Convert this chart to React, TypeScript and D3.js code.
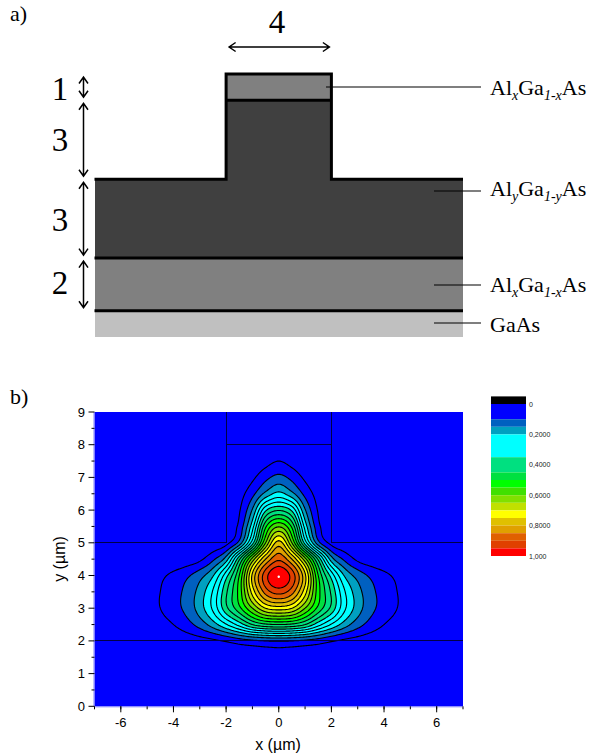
import React from "react";
import * as d3 from "d3";

// ---- data ----
const gridXs = [0, 0.5, 1, 1.5, 2, 2.5, 3, 3.5, 4, 4.5, 5, 5.5, 6, 6.5];
const gridYs = [0.5, 1, 1.5, 2, 2.5, 3, 3.5, 4, 4.5, 5, 5.5, 6, 6.5, 7, 7.5, 8, 8.5];
const fieldRows = [
  [0, 0, 0, 0, 0, 0, 0, 0, 0, 0, 0, 0, 0, 0],
  [0.005, 0.004, 0.003, 0.002, 0.002, 0.001, 0.001, 0, 0, 0, 0, 0, 0, 0],
  [0.025, 0.023, 0.02, 0.015, 0.011, 0.008, 0.005, 0.003, 0.002, 0, 0, 0, 0, 0],
  [0.105, 0.1, 0.09, 0.075, 0.055, 0.04, 0.03, 0.02, 0.012, 0.006, 0.002, 0, 0, 0],
  [0.45, 0.44, 0.4, 0.32, 0.245, 0.175, 0.12, 0.08, 0.05, 0.03, 0.015, 0.007, 0.003, 0.001],
  [0.725, 0.7, 0.6, 0.485, 0.385, 0.26, 0.175, 0.115, 0.08, 0.05, 0.03, 0.015, 0.007, 0.002],
  [0.92, 0.87, 0.72, 0.52, 0.39, 0.255, 0.17, 0.115, 0.078, 0.05, 0.03, 0.015, 0.007, 0.002],
  [1.0, 0.93, 0.76, 0.5, 0.33, 0.195, 0.13, 0.09, 0.062, 0.04, 0.022, 0.01, 0.004, 0.001],
  [0.89, 0.8, 0.62, 0.39, 0.175, 0.09, 0.04, 0.02, 0.01, 0.005, 0.002, 0, 0, 0],
  [0.77, 0.6, 0.33, 0.12, 0.035, 0.012, 0.005, 0, 0, 0, 0, 0, 0, 0],
  [0.595, 0.49, 0.23, 0.065, 0.015, 0.005, 0, 0, 0, 0, 0, 0, 0, 0],
  [0.395, 0.34, 0.155, 0.045, 0.008, 0, 0, 0, 0, 0, 0, 0, 0, 0],
  [0.215, 0.165, 0.085, 0.03, 0.005, 0, 0, 0, 0, 0, 0, 0, 0, 0],
  [0.115, 0.085, 0.04, 0.01, 0, 0, 0, 0, 0, 0, 0, 0, 0, 0],
  [0.05, 0.032, 0.01, 0.002, 0, 0, 0, 0, 0, 0, 0, 0, 0, 0],
  [0.015, 0.01, 0.003, 0, 0, 0, 0, 0, 0, 0, 0, 0, 0, 0],
  [0, 0, 0, 0, 0, 0, 0, 0, 0, 0, 0, 0, 0, 0],
];
const contourLevels = [0.05, 0.1, 0.15, 0.2, 0.25, 0.3, 0.35, 0.4, 0.45, 0.5, 0.55, 0.6, 0.65, 0.7, 0.75, 0.8, 0.85, 0.9, 0.95];
const bandStarts = [-0.05, 0, 0.1, 0.15, 0.2, 0.35, 0.45, 0.5, 0.55, 0.6, 0.65, 0.7, 0.75, 0.8, 0.85, 0.9, 0.95];
const bandEnds = [0, 0.1, 0.15, 0.2, 0.35, 0.45, 0.5, 0.55, 0.6, 0.65, 0.7, 0.75, 0.8, 0.85, 0.9, 0.95, 1];
const bandColors = ["#000000", "#0000ff", "#0060c0", "#00a0c0", "#00ffff", "#00e080", "#00e040", "#00ff00", "#40e000", "#80e000", "#c0e000", "#ffff00", "#e0c000", "#e0a000", "#e06000", "#e04000", "#ff0000"];
const legendTicks = [0, 0.2, 0.4, 0.6, 0.8, 1];
const legendTickLabels = ["0", "0,2000", "0,4000", "0,6000", "0,8000", "1,000"];
const peak = { x: 0, y: 3.96 };

const layerThickness = [1, 2, 3, 3, 1];
const layerFills = ["#c0c0c0", "#808080", "#404040", "#404040", "#808080"];
const dimArrows = [
  { label: "1", from: 9, to: 10, base: 100 },
  { label: "3", from: 6, to: 9, base: 151 },
  { label: "3", from: 3, to: 6, base: 231 },
  { label: "2", from: 1, to: 3, base: 294 },
];
const materials = [
  { a: "x", b: "1-x", line: 87, start: 326, base: 95 },
  { a: "y", b: "1-y", line: 191, start: 434, base: 196 },
  { a: "x", b: "1-x", line: 285, start: 434, base: 292 },
];
const guideLines: [number, number][][] = [
  [[-7, 2], [7, 2]],
  [[-7, 5], [-2, 5], [-2, 9]],
  [[7, 5], [2, 5], [2, 9]],
  [[-2, 8], [2, 8]],
];

// ---- scales ----
const x = d3.scaleLinear().domain([-7, 7]).range([94.5, 463]);
const y = d3.scaleLinear().domain([0, 9]).range([706.3, 412]);
const stack = d3.scaleLinear().domain([0, 10]).range([337, 74]);
const leg = d3.scaleLinear().domain([0, 1]).range([404, 556]);

const SERIF = "'Liberation Serif', serif";
const SANS = "'Liberation Sans', sans-serif";

function cr(p0: number, p1: number, p2: number, p3: number, t: number) {
  return 0.5 * (2 * p1 + (p2 - p0) * t + (2 * p0 - 5 * p1 + 4 * p2 - p3) * t * t + (3 * p1 - p0 - 3 * p2 + p3) * t * t * t);
}
function rowAt(r: number, c: number) {
  if (r < 0 || r >= gridYs.length) return 0;
  const ac = Math.abs(c);
  if (ac >= gridXs.length) return 0;
  return fieldRows[r][ac];
}
function field(px: number, py: number) {
  const u = Math.abs(px) / 0.5;
  const v = (py - gridYs[0]) / 0.5;
  const c = Math.floor(u), r = Math.floor(v);
  const tu = u - c, tv = v - r;
  const vals = [-1, 0, 1, 2].map((dr) =>
    cr(rowAt(r + dr, c - 1), rowAt(r + dr, c), rowAt(r + dr, c + 1), rowAt(r + dr, c + 2), tu)
  );
  return Math.max(0, cr(vals[0], vals[1], vals[2], vals[3], tv));
}

const dx = 0.05, dy = 0.04;
const nx = Math.round(14 / dx) + 1, ny = Math.round(9 / dy) + 1;
const values: number[] = [];
for (let j = 0; j < ny; j++) for (let i = 0; i < nx; i++) values.push(field(-7 + i * dx, j * dy));
const contours = d3.contours().size([nx, ny]).smooth(true).thresholds(contourLevels)(values);
const proj = d3.geoTransform({
  point(this: any, a: number, b: number) {
    this.stream.point(x(-7 + (a - 0.5) * dx), y((b - 0.5) * dy));
  },
});
const contourPath = d3.geoPath(proj);
const bandColor = (v: number) => {
  const i = d3.bisectRight(bandStarts, v + 1e-6) - 1;
  return bandColors[i];
};
const polyline = d3.line<[number, number]>().x((d) => x(d[0])).y((d) => y(d[1]));

function Arrow({ x1, y1, x2, y2 }: { x1: number; y1: number; x2: number; y2: number }) {
  const s = 6.5;
  const w = 4.5;
  const len = Math.hypot(x2 - x1, y2 - y1);
  const ux = (x2 - x1) / len, uy = (y2 - y1) / len;
  const head = (hx: number, hy: number, dirx: number, diry: number) =>
    `M${hx - dirx * s - diry * w},${hy - diry * s + dirx * w}L${hx},${hy}L${hx - dirx * s + diry * w},${hy - diry * s - dirx * w}`;
  return (
    <path
      d={`M${x1},${y1}L${x2},${y2}` + head(x2, y2, ux, uy) + head(x1, y1, -ux, -uy)}
      fill="none"
      stroke="#000"
      strokeWidth={1.5}
    />
  );
}

function Material({ a, b, base }: { a: string; b: string; base: number }) {
  return (
    <text x={490} y={base} fontFamily={SERIF} fontSize={22} fill="#000">
      Al
      <tspan fontSize={14} fontStyle="italic" dy={5}>{a}</tspan>
      <tspan dy={-5}>Ga</tspan>
      <tspan fontSize={14} fontStyle="italic" dy={5}>{b}</tspan>
      <tspan dy={-5}>As</tspan>
    </text>
  );
}

export default function App() {
  const cum = d3.cumsum(layerThickness);
  const bottoms = [0, ...cum.slice(0, -1)];
  const xMajor = d3.range(-6, 7, 2);
  const xMinor = d3.range(-7, 8, 1);
  const yMajor = d3.range(0, 10, 1);
  const yMinor = d3.range(0.5, 9, 1);
  return (
    <svg width={591} height={753} style={{ position: "absolute", left: 0, top: 0, background: "#fff" }}>
      {/* panel a */}
      <text x={10} y={21} fontFamily={SERIF} fontSize={22}>a)</text>
      <text x={277} y={33} textAnchor="middle" fontFamily={SERIF} fontSize={33}>4</text>
      <Arrow x1={x(-2) + 3} y1={47} x2={x(2) - 2} y2={47} />
      {layerThickness.map((t, i) => {
        const mesa = i >= 3;
        const x0 = mesa ? x(-2) : x(-7);
        const x1 = mesa ? x(2) : x(7);
        return (
          <rect key={i} x={x0} width={x1 - x0} y={stack(bottoms[i] + t)} height={stack(bottoms[i]) - stack(bottoms[i] + t)} fill={layerFills[i]} shapeRendering="crispEdges" />
        );
      })}
      <g fill="none" stroke="#000" strokeWidth={3}>
        <path d={`M${x(-7)},${stack(6)}H${x(-2)}V${stack(10)}H${x(2)}V${stack(6)}H${x(7)}`} />
        <path d={`M${x(-2)},${stack(9)}H${x(2)}`} />
        <path d={`M${x(-7)},${stack(3)}H${x(7)}`} />
        <path d={`M${x(-7)},${stack(1)}H${x(7)}`} />
      </g>
      {dimArrows.map((d, i) => (
        <g key={i}>
          <text x={60} y={d.base} textAnchor="middle" fontFamily={SERIF} fontSize={33}>{d.label}</text>
          <Arrow x1={83.5} y1={stack(d.from) - 3} x2={83.5} y2={stack(d.to) + 3} />
        </g>
      ))}
      {materials.map((m, i) => (
        <g key={i}>
          <line x1={m.start} x2={481} y1={m.line} y2={m.line} stroke="#000" strokeWidth={1.2} />
          <Material a={m.a} b={m.b} base={m.base} />
        </g>
      ))}
      <line x1={434} x2={481} y1={323} y2={323} stroke="#000" strokeWidth={1.2} />
      <text x={490} y={332} fontFamily={SERIF} fontSize={22}>GaAs</text>

      {/* panel b */}
      <text x={10} y={404} fontFamily={SERIF} fontSize={22}>b)</text>
      <rect x={x(-7)} y={y(9)} width={x(7) - x(-7)} height={y(0) - y(9)} fill="#0000ff" />
      {contours.map((c, i) => (
        <path key={i} d={contourPath(c as any) || ""} fill={bandColor(c.value)} stroke="#000" strokeWidth={1.1} />
      ))}
      {guideLines.map((l, i) => (
        <path key={i} d={polyline(l) || ""} fill="none" stroke="#000048" strokeWidth={1} shapeRendering="crispEdges" />
      ))}
      <circle cx={x(peak.x)} cy={y(peak.y)} r={1.2} fill="#fff" />

      {/* axes */}
      <g stroke="#000" strokeWidth={1} fill="none">
        <path d={`M${x(-7)},${y(0) + 0.5}H${x(7)}`} stroke="#8080ff" />
        <path d={`M${x(-7) - 0.5},${y(9)}V${y(0)}`} stroke="#8080ff" />
        {xMinor.map((t) => <line key={t} x1={x(t)} x2={x(t)} y1={y(0)} y2={y(0) + 3} />)}
        {xMajor.map((t) => <line key={t} x1={x(t)} x2={x(t)} y1={y(0)} y2={y(0) + 6} />)}
        {yMinor.map((t) => <line key={t} x1={x(-7)} x2={x(-7) - 3} y1={y(t)} y2={y(t)} />)}
        {yMajor.map((t) => <line key={t} x1={x(-7)} x2={x(-7) - 6} y1={y(t)} y2={y(t)} />)}
      </g>
      {xMajor.map((t) => (
        <text key={t} x={x(t)} y={727} textAnchor="middle" fontFamily={SANS} fontSize={13}>{t}</text>
      ))}
      {yMajor.map((t) => (
        <text key={t} x={85} y={y(t) + 4.5} textAnchor="end" fontFamily={SANS} fontSize={13}>{t}</text>
      ))}
      <text x={278} y={750} textAnchor="middle" fontFamily={SANS} fontSize={16}>x (µm)</text>
      <text transform={`translate(65,559) rotate(-90)`} textAnchor="middle" fontFamily={SANS} fontSize={16}>y (µm)</text>

      {/* legend */}
      {bandStarts.map((s, i) => (
        <rect key={i} x={491} width={35} y={leg(s)} height={leg(bandEnds[i]) - leg(s)} fill={bandColors[i]} />
      ))}
      {legendTicks.map((t, i) => (
        <text key={t} x={529} y={leg(t) + 2.5} fontFamily={SANS} fontSize={7} fill="#222">{legendTickLabels[i]}</text>
      ))}
    </svg>
  );
}
